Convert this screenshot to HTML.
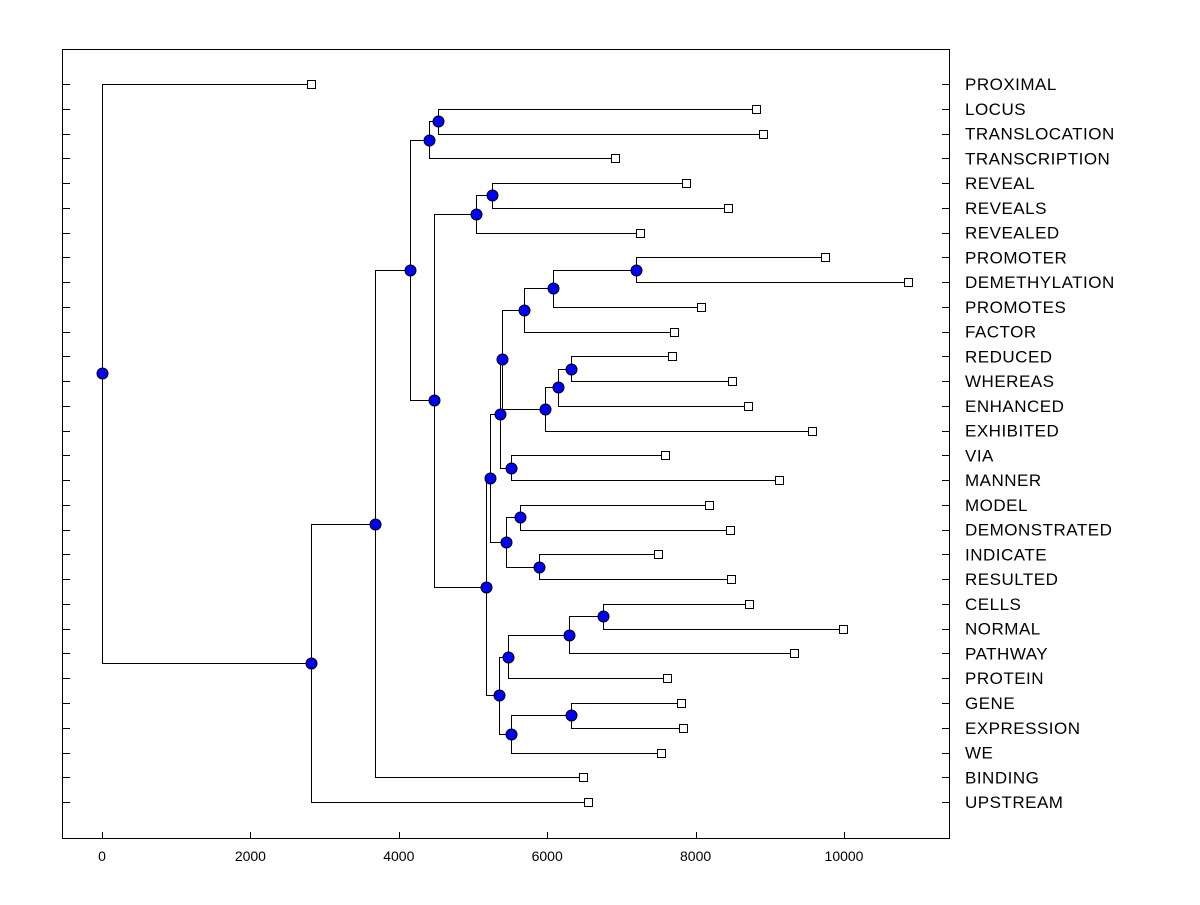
<!DOCTYPE html>
<html><head><meta charset="utf-8"><style>
body{margin:0;background:#fff;font-family:"Liberation Sans",Arial,sans-serif}
</style></head><body>
<svg id="c" width="1200" height="900" xmlns="http://www.w3.org/2000/svg">
<rect x="62.5" y="49.5" width="887" height="789" fill="#fff" stroke="#000"/>
</svg>
<script>
const leafLabels = ["PROXIMAL","LOCUS","TRANSLOCATION","TRANSCRIPTION","REVEAL","REVEALS","REVEALED","PROMOTER","DEMETHYLATION","PROMOTES","FACTOR","REDUCED","WHEREAS","ENHANCED","EXHIBITED","VIA","MANNER","MODEL","DEMONSTRATED","INDICATE","RESULTED","CELLS","NORMAL","PATHWAY","PROTEIN","GENE","EXPRESSION","WE","BINDING","UPSTREAM"];
const leafHeights = [2817,8814,8908,6914,7871,8437,7251,9744,10863,8073,7709,7682,8491,8706,9569,7588,9124,8181,8464,7493,8477,8720,9987,9326,7615,7803,7830,7534,6482,6550];
const mergeChildren = [
["L1","L2"],["N0","L3"],["L4","L5"],["N2","L6"],["L7","L8"],["N4","L9"],["N5","L10"],
["L11","L12"],["N7","L13"],["N8","L14"],["N6","N9"],["L15","L16"],["N10","N11"],
["L17","L18"],["L19","L20"],["N13","N14"],["N12","N15"],["L21","L22"],["N17","L23"],
["N18","L24"],["L25","L26"],["N20","L27"],["N19","N21"],["N16","N22"],["N3","N23"],
["N1","N24"],["N25","L28"],["N26","L29"],["L0","N27"]];
const mergeHeights = [4528,4407,5256,5040,7197,6078,5687,6321,6146,5970,5391,5512,5364,5633,5889,5445,5229,6752,6294,5472,6321,5512,5350,5175,4474,4151,3679,2817,0];
const xTicks = [0,2000,4000,6000,8000,10000];

const svg=document.getElementById('c');
const NS='http://www.w3.org/2000/svg';
const xs=v=>102+v*0.0742;
const ys=i=>84+i*24.76;
function mk(t,a){const e=document.createElementNS(NS,t);for(const k in a)e.setAttribute(k,a[k]);svg.appendChild(e);return e;}
leafLabels.forEach((lab,i)=>{
  const y=Math.round(ys(i))+0.5;
  mk('line',{x1:62,x2:70,y1:y,y2:y,stroke:'#000'});
  mk('line',{x1:942,x2:949,y1:y,y2:y,stroke:'#000'});
  const t=mk('text',{x:965,y:ys(i)+6,'font-size':17,'letter-spacing':0.5,fill:'#000'});
  t.textContent=lab;
  
  
});
xTicks.forEach(v=>{
  const x=Math.round(xs(v))+0.5;
  mk('line',{x1:x,x2:x,y1:838,y2:832,stroke:'#000'});
  const t=mk('text',{x:xs(v),y:861,'font-size':14,'text-anchor':'middle'});
  t.textContent=v;
  
  
});
function pos(id){
  const i=+id.slice(1);
  if(id[0]==='L')return {x:xs(leafHeights[i]),y:ys(i)};
  const a=pos(mergeChildren[i][0]),b=pos(mergeChildren[i][1]);
  return {x:xs(mergeHeights[i]),y:(a.y+b.y)/2};
}
const dots=[];
mergeChildren.forEach((ch,i)=>{
  const p=pos('N'+i);
  const a=pos(ch[0]),b=pos(ch[1]);
  const px=Math.round(p.x)+0.5;
  const l=mk('path',{d:`M${a.x},${Math.round(a.y)+0.5}H${px}V${Math.round(b.y)+0.5}H${b.x}`,fill:'none',stroke:'#000'});
  
  
  dots.push(p);
});
leafLabels.forEach((lab,i)=>{
  const p=pos('L'+i);
  const r=mk('rect',{x:Math.round(p.x)-3.5,y:Math.round(p.y)-3.5,width:8,height:8,fill:'#fff',stroke:'#000'});
  
  
});
dots.forEach(p=>{
  const c=mk('circle',{cx:Math.round(p.x)+0.5,cy:Math.round(p.y)+0.5,r:5.5,fill:'#0000ff',stroke:'#000','stroke-width':1});
  
  
});
</script>
</body></html>
